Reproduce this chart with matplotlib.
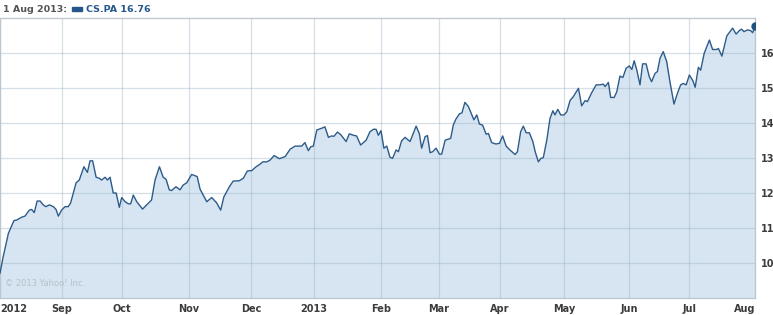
import numpy as np
import matplotlib
matplotlib.use("Agg")
import matplotlib.pyplot as plt

# trading session index (0 = 1 Aug 2012, 260 = 1 Aug 2013) and close price
session = [0.0, 1.1, 2.9, 4.8, 5.8, 7.5, 8.6, 10.1, 10.9, 11.8, 12.8, 13.8, 14.9, 15.8,
           17.0, 18.4, 19.3, 20.1, 21.2, 22.4, 23.5, 24.3, 26.2, 27.3, 28.9, 30.1, 31.0,
           31.9, 33.1, 34.2, 35.0, 36.2, 37.0, 37.9, 39.0, 40.0, 41.1, 41.9, 43.1, 44.2,
           45.0, 45.9, 47.1, 49.1, 50.5, 52.2, 53.4, 54.9, 56.2, 57.2, 58.3, 59.1, 60.6,
           62.0, 63.1, 64.3, 66.0, 67.9, 68.9, 71.2, 72.9, 74.6, 76.0, 77.1, 79.0, 80.3,
           82.4, 83.8, 85.2, 86.7, 88.2, 89.5, 90.5, 91.9, 93.0, 94.4, 96.2, 98.2, 99.9,
           101.6, 103.9, 105.0, 106.2, 107.0, 107.9, 109.1, 110.8, 111.9, 113.1, 114.2,
           115.0, 116.2, 117.3, 119.2, 120.3, 121.7, 122.8, 124.2, 126.1, 127.4, 128.6,
           129.5, 130.3, 131.2, 132.2, 133.2, 134.3, 135.2, 136.4, 137.2, 138.3, 139.5,
           141.2, 143.3, 144.4, 145.2, 146.4, 147.2, 148.1, 149.0, 150.2, 151.3, 152.1,
           153.3, 154.4, 155.2, 156.1, 157.0, 158.2, 159.1, 160.1, 161.3, 162.5, 163.2,
           164.2, 165.1, 166.2, 167.4, 168.2, 169.3, 170.8, 172.0, 173.1, 174.3, 175.6,
           177.4, 178.2, 179.3, 180.2, 181.2, 182.3, 183.5, 184.3, 185.4, 186.3, 187.1,
           188.3, 189.4, 190.4, 191.1, 192.1, 193.1, 194.2, 195.2, 196.3, 197.4, 199.2,
           200.3, 201.5, 202.3, 203.8, 205.3, 206.6, 207.8, 208.4, 209.5, 210.3, 211.5,
           212.4, 213.5, 214.5, 215.6, 216.7, 217.6, 218.4, 219.3, 220.4, 221.3, 222.5,
           223.6, 224.4, 225.6, 226.4, 227.3, 228.4, 229.6, 230.7, 232.1, 233.3, 234.4,
           235.3, 236.3, 237.4, 238.6, 239.4, 240.5, 241.3, 242.5, 244.3, 245.4, 246.8,
           247.4, 248.6, 250.3, 251.4, 252.3, 253.5, 254.6, 255.4, 256.2, 257.4, 258.5,
           259.2, 260.0]
price = [9.71, 10.18, 10.85, 11.21, 11.23, 11.31, 11.34, 11.51, 11.53, 11.44, 11.77, 11.77,
         11.66, 11.61, 11.66, 11.61, 11.53, 11.34, 11.51, 11.61, 11.61, 11.71, 12.29, 12.37,
         12.75, 12.59, 12.92, 12.92, 12.45, 12.42, 12.37, 12.45, 12.37, 12.45, 12.0, 12.0,
         11.59, 11.87, 11.75, 11.69, 11.69, 11.94, 11.75, 11.54, 11.66, 11.8, 12.37, 12.75,
         12.45, 12.39, 12.09, 12.07, 12.18, 12.09, 12.23, 12.29, 12.53, 12.47, 12.11, 11.75,
         11.87, 11.72, 11.51, 11.89, 12.18, 12.34, 12.35, 12.42, 12.63, 12.64, 12.75, 12.82,
         12.89, 12.89, 12.94, 13.07, 12.98, 13.04, 13.25, 13.34, 13.34, 13.44, 13.21, 13.32,
         13.34, 13.8, 13.85, 13.89, 13.59, 13.63, 13.62, 13.74, 13.67, 13.47, 13.69, 13.65,
         13.63, 13.37, 13.51, 13.75, 13.82, 13.82, 13.65, 13.78, 13.28, 13.34, 13.02, 12.99,
         13.23, 13.18, 13.49, 13.59, 13.47, 13.91, 13.7, 13.28, 13.61, 13.64, 13.15, 13.18,
         13.28, 13.11, 13.11, 13.51, 13.54, 13.56, 13.94, 14.11, 14.26, 14.29, 14.59, 14.47,
         14.23, 14.09, 14.23, 13.97, 13.94, 13.68, 13.7, 13.44, 13.4, 13.42, 13.63, 13.34,
         13.23, 13.1, 13.18, 13.75, 13.91, 13.72, 13.72, 13.47, 13.18, 12.89, 12.99, 13.01,
         13.51, 14.13, 14.35, 14.23, 14.39, 14.23, 14.23, 14.32, 14.64, 14.75, 14.99, 14.49,
         14.64, 14.61, 14.87, 15.09, 15.09, 15.11, 15.04, 15.16, 14.73, 14.73, 14.89, 15.34,
         15.3, 15.56, 15.63, 15.53, 15.78, 15.51, 15.09, 15.69, 15.69, 15.32, 15.18, 15.42,
         15.47, 15.85, 16.04, 15.75, 15.18, 14.54, 14.85, 15.09, 15.13, 15.09, 15.37, 15.21,
         15.02, 15.59, 15.51, 15.99, 16.37, 16.1, 16.1, 16.13, 15.91, 16.49, 16.61, 16.71,
         16.54, 16.64, 16.68, 16.61, 16.66, 16.64, 16.58, 16.76]

month_pos = [0, 21.4, 42.0, 65.1, 86.4, 108.1, 131.2, 151.2, 172.2, 194.2, 216.6, 237.3, 260]
month_lbl = ["2012", "Sep", "Oct", "Nov", "Dec", "2013", "Feb", "Mar", "Apr", "May",
             "Jun", "Jul", "Aug"]
y_ticks = [10, 11, 12, 13, 14, 15, 16]

line_c = "#2c5b8a"
fill_c = "#d6e5f1"
text_c = "#3c3c3c"

fig = plt.figure(figsize=(7.73, 3.15), dpi=100)
ax = fig.add_axes([0.0, 17 / 315, 755 / 773, 280 / 315])

ax.fill_between(session, price, 9, color=fill_c, lw=0, zorder=1)
ax.plot(session, price, color=line_c, lw=1.0, zorder=4)
ax.plot(session[-1], price[-1], "o", color="#1f4f80", ms=5, zorder=5)

for p in month_pos:
    ax.axvline(p, color="#9aaec2", alpha=0.4, lw=0.9, zorder=2)
for t in y_ticks:
    ax.axhline(t, color="#9aaec2", alpha=0.4, lw=0.9, zorder=2)

ax.set_xlim(0, 260)
ax.set_ylim(9, 17)
ax.set_xticks(month_pos)
ax.set_xticklabels(month_lbl, fontsize=7, fontweight="bold", color=text_c)
ax.xaxis.get_majorticklabels()[0].set_ha("left")
ax.xaxis.get_majorticklabels()[-1].set_ha("right")
ax.set_yticks(y_ticks)
ax.set_yticklabels([str(t) for t in y_ticks], fontsize=7, fontweight="bold", color=text_c)
ax.yaxis.tick_right()
ax.tick_params(axis="both", length=0)
ax.tick_params(axis="x", pad=4)
ax.tick_params(axis="y", pad=4)
for s in ax.spines.values():
    s.set_color("#bcc6d0")
    s.set_linewidth(0.9)

ax.text(0.006, 0.035, "\u00a9 2013 Yahoo! Inc.", transform=ax.transAxes,
        fontsize=6, color="#b8c0c8", va="bottom", ha="left", zorder=3)

fig.text(3 / 773, 1 - 9 / 315, "1 Aug 2013:", fontsize=6.8, fontweight="bold",
         color="#555555", va="center", ha="left")
fig.patches.append(plt.Rectangle((72 / 773, 1 - 11 / 315), 10 / 773, 4 / 315,
                                 transform=fig.transFigure, color="#24568a"))
fig.text(86 / 773, 1 - 9 / 315, "CS.PA 16.76", fontsize=6.8, fontweight="bold",
         color="#24568a", va="center", ha="left")

fig.savefig("out.png", dpi=100)
